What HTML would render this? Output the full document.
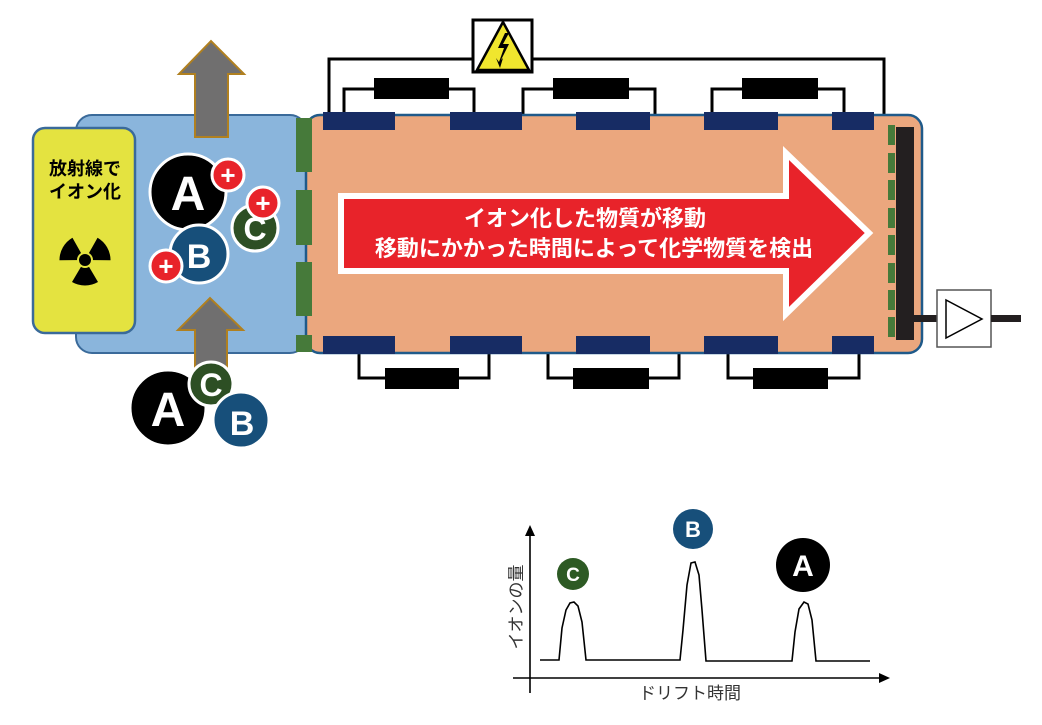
<!DOCTYPE html>
<html><head><meta charset="utf-8"><style>html,body{margin:0;padding:0;background:#fff}svg{display:block}</style></head>
<body>
<svg width="1042" height="725" viewBox="0 0 1042 725" xmlns="http://www.w3.org/2000/svg" font-family="'Liberation Sans','Noto Sans CJK JP',sans-serif">
<g fill="none" stroke="#000" stroke-width="3">
<polyline points="329,115 329,59 473,59"/>
<polyline points="532,59 884,59 884,115"/>
<polyline points="344,114 344,89 474,89 474,114"/>
<polyline points="523,114 523,89 655,89 655,114"/>
<polyline points="712,114 712,89 844,89 844,114"/>
<polyline points="359,352 359,378 489,378 489,352"/>
<polyline points="548,352 548,378 679,378 679,352"/>
<polyline points="728,352 728,378 859,378 859,352"/>
</g>
<g fill="#000">
<rect x="374" y="78" width="75" height="21"/>
<rect x="553" y="78" width="76" height="21"/>
<rect x="742" y="78" width="76" height="21"/>
<rect x="385" y="368" width="74" height="21"/>
<rect x="573" y="368" width="76" height="21"/>
<rect x="753" y="368" width="75" height="21"/>
</g>
<rect x="473" y="20" width="59" height="52" fill="#fff" stroke="#000" stroke-width="3"/>
<polygon points="503,22 477,70 529,70" fill="#f0e62e" stroke="#000" stroke-width="2.5"/>
<polygon points="505,33 498,48 504,48 499,62 496,58 500,68 503,58 501,60 509,44 503,44 509,33" fill="#000"/>
<rect x="76" y="115" width="230" height="238" rx="16" fill="#8ab5dc" stroke="#3a6a9a" stroke-width="2"/>
<rect x="33" y="128" width="102" height="205" rx="12" fill="#e4e340" stroke="#3a6a9a" stroke-width="2.5"/>
<text x="85" y="175" font-size="18" font-weight="bold" text-anchor="middle">放射線で</text>
<text x="85" y="198" font-size="18" font-weight="bold" text-anchor="middle">イオン化</text>
<g transform="translate(85,260)">
<path d="M0,0 L-13,-22 A26,26 0 0 1 13,-22 Z" fill="#000" transform="rotate(-60)"/>
<path d="M0,0 L-13,-22 A26,26 0 0 1 13,-22 Z" fill="#000" transform="rotate(60)"/>
<path d="M0,0 L-13,-22 A26,26 0 0 1 13,-22 Z" fill="#000" transform="rotate(180)"/>
<circle r="8" fill="#e4e340"/><circle r="6" fill="#000"/>
</g>
<rect x="306" y="115" width="616" height="238" rx="14" fill="#eba77e" stroke="#1f5a8a" stroke-width="2.5"/>
<g fill="#467a3a">
<rect x="296" y="118" width="16" height="54"/><rect x="296" y="190" width="16" height="55"/>
<rect x="296" y="262" width="16" height="54"/><rect x="296" y="335" width="16" height="17"/>
</g>
<g fill="#172c64">
<rect x="323" y="112" width="72" height="18"/><rect x="450" y="112" width="72" height="18"/>
<rect x="576" y="112" width="74" height="18"/><rect x="704" y="112" width="74" height="18"/>
<rect x="832" y="112" width="42" height="18"/>
<rect x="323" y="336" width="72" height="18"/><rect x="450" y="336" width="72" height="18"/>
<rect x="576" y="336" width="74" height="18"/><rect x="704" y="336" width="74" height="18"/>
<rect x="832" y="336" width="42" height="18"/>
</g>
<polygon points="341,196 786,196 786,153 869,233 786,314 786,271 341,271" fill="#e8232a" stroke="#fff" stroke-width="6" stroke-linejoin="miter"/>
<text x="585" y="226" font-size="22" font-weight="bold" fill="#fff" text-anchor="middle">イオン化した物質が移動</text>
<text x="594" y="256" font-size="22" font-weight="bold" fill="#fff" text-anchor="middle">移動にかかった時間によって化学物質を検出</text>
<g fill="#467a3a">
<rect x="888" y="125" width="7" height="20"/><rect x="888" y="153" width="7" height="20"/>
<rect x="888" y="180" width="7" height="20"/><rect x="888" y="208" width="7" height="20"/>
<rect x="888" y="235" width="7" height="20"/><rect x="888" y="263" width="7" height="20"/>
<rect x="888" y="290" width="7" height="20"/><rect x="888" y="317" width="7" height="20"/>
</g>
<rect x="896" y="127" width="18" height="213" fill="#231f20"/>
<rect x="914" y="315" width="24" height="7" fill="#231f20"/>
<rect x="937" y="290" width="54" height="57" fill="#fff" stroke="#555" stroke-width="1.5"/>
<polygon points="946,300 946,338 982,319" fill="#fff" stroke="#000" stroke-width="1.5"/>
<rect x="991" y="315" width="30" height="7" fill="#231f20"/>
<polygon points="195,137 195,74 179,74 211,41 244,74 228,74 228,137" fill="#706f6f" stroke="#b08020" stroke-width="2"/>
<polygon points="195,370 195,330 178,330 210,298 243,330 227,330 227,370" fill="#706f6f" stroke="#b08020" stroke-width="2"/>
<g stroke="#fff" stroke-width="3">
<circle cx="188" cy="192" r="38" fill="#000"/>
<circle cx="228" cy="175" r="16" fill="#e8232a"/>
<circle cx="255" cy="228" r="23" fill="#2d4f24"/>
<circle cx="263" cy="203" r="16" fill="#e8232a"/>
<circle cx="199" cy="254" r="29" fill="#174f7a"/>
<circle cx="166" cy="266" r="16" fill="#e8232a"/>
<circle cx="168" cy="408" r="38" fill="#000"/>
<circle cx="211" cy="384" r="22" fill="#2d4f24"/>
<circle cx="241" cy="420" r="28" fill="#174f7a"/>
</g>
<g fill="#fff" font-weight="bold" text-anchor="middle">
<text x="188" y="210" font-size="48">A</text>
<text x="255" y="240" font-size="32">C</text>
<text x="199" y="268" font-size="34">B</text>
<text x="168" y="426" font-size="48">A</text>
<text x="211" y="396" font-size="32">C</text>
<text x="242" y="435" font-size="34">B</text>
<g font-size="26"><text x="228" y="184">+</text><text x="263" y="212">+</text><text x="166" y="275">+</text></g>
</g>
<g stroke="#000" stroke-width="1.6" fill="none">
<line x1="530" y1="693" x2="530" y2="532"/>
<line x1="513" y1="678" x2="882" y2="678"/>
<polyline points="540,660 559,660 562,628 566,610 570,603 574,602 578,606 582,622 586,660 680,660 683,630 687,585 691,563 695,562 699,575 702,610 706,661 792,661 795,632 799,609 804,602 808,604 812,620 816,661 870,661"/>
</g>
<polygon points="530,525 525,536 535,536" fill="#000"/>
<polygon points="890,678 879,673 879,683" fill="#000"/>
<text x="690" y="699" font-size="17" fill="#333" text-anchor="middle">ドリフト時間</text>
<text transform="translate(522,607) rotate(-90)" font-size="17" fill="#333" text-anchor="middle">イオンの量</text>
<circle cx="573" cy="574" r="16" fill="#2d5a24"/>
<circle cx="693" cy="529" r="20" fill="#174f7a"/>
<circle cx="803" cy="565" r="27" fill="#000"/>
<g fill="#fff" font-weight="bold" text-anchor="middle">
<text x="573" y="581" font-size="19">C</text>
<text x="693" y="537" font-size="22">B</text>
<text x="803" y="576" font-size="30">A</text>
</g>
</svg>
</body></html>
